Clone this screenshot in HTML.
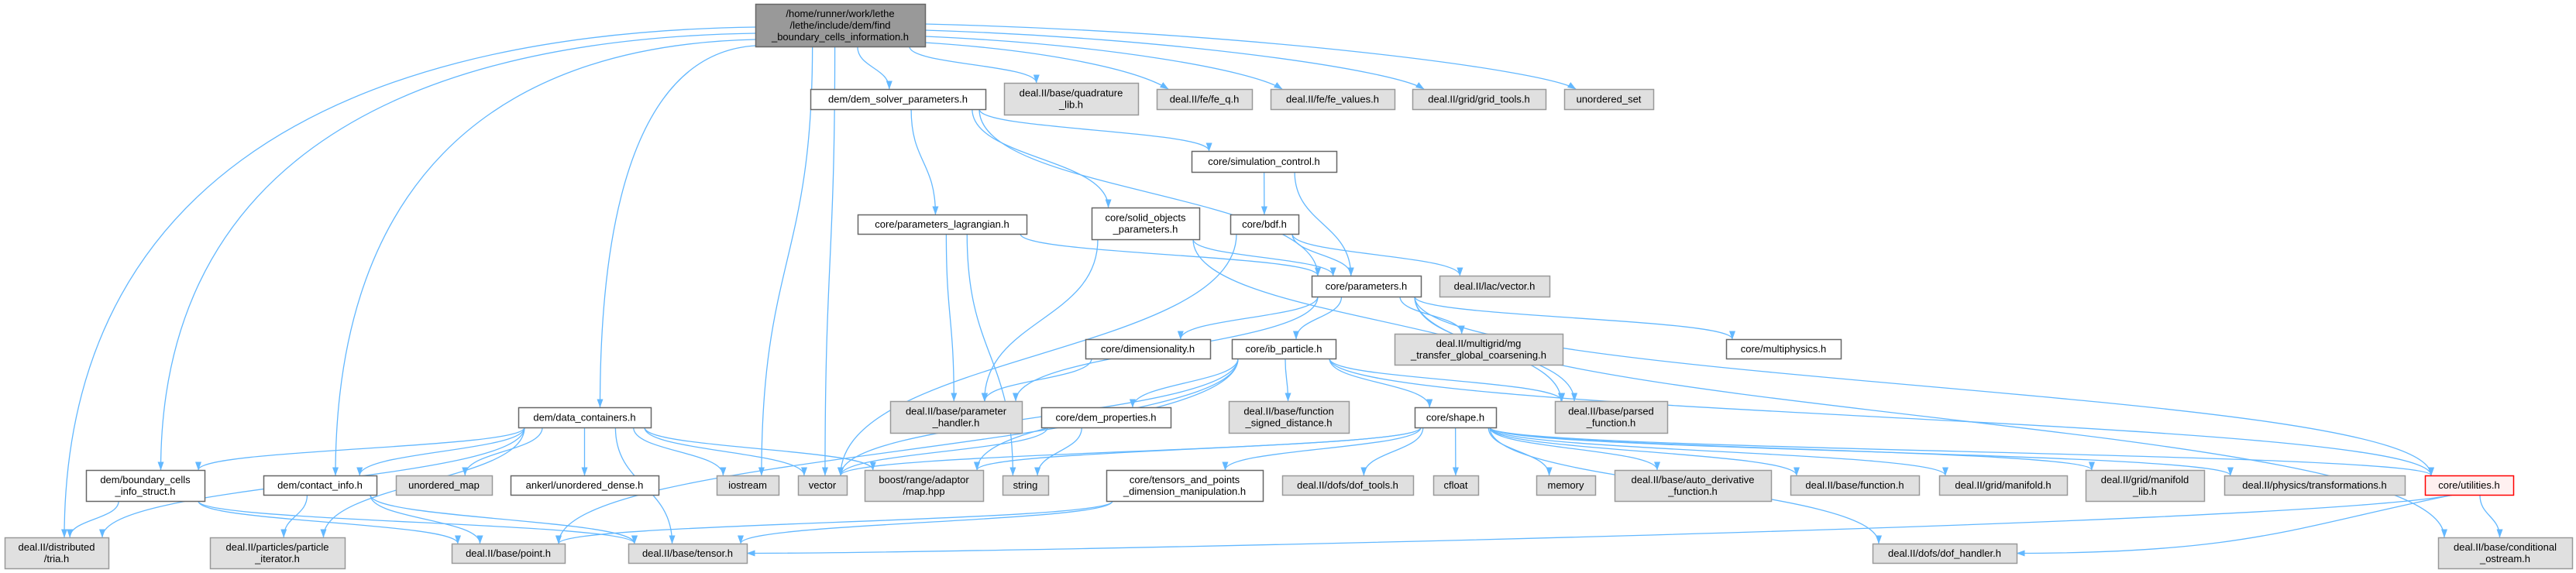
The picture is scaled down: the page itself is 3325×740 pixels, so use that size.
<!DOCTYPE html>
<html><head><meta charset="utf-8">
<style>
html,body{margin:0;padding:0;background:#fff;}
svg{display:block;}
text{font-family:"Liberation Sans",sans-serif;font-size:13px;fill:#000;}
</style></head>
<body>
<svg id="g" xmlns="http://www.w3.org/2000/svg" width="3325" height="740" viewBox="0 0 3325 740">
<defs>
<marker id="ah" markerUnits="userSpaceOnUse" markerWidth="11" markerHeight="8" refX="10.5" refY="4" orient="auto">
<path d="M0,0 L11,4 L0,8 z" fill="#63b8ff"/>
</marker>
</defs>
<g id="edges" fill="none" stroke="#63b8ff" stroke-width="1.3"></g>
<g id="nodes"></g>
</svg>
<script>
const N={
top:[975,5,1194,60,['/home/runner/work/lethe','/lethe/include/dem/find','_boundary_cells_information.h'],'top'],
dsp:[1046,115,1272,141,['dem/dem_solver_parameters.h'],'w'],
quad:[1296,107,1469,148,['deal.II/base/quadrature','_lib.h'],'g'],
feq:[1493,115,1616,141,['deal.II/fe/fe_q.h'],'g'],
fev:[1640,115,1800,141,['deal.II/fe/fe_values.h'],'g'],
gt:[1823,115,1995,141,['deal.II/grid/grid_tools.h'],'g'],
us:[2019,115,2134,141,['unordered_set'],'g'],
sim:[1538,195,1725,222,['core/simulation_control.h'],'w'],
pl:[1107,277,1325,302,['core/parameters_lagrangian.h'],'w'],
sop:[1409,268,1548,309,['core/solid_objects','_parameters.h'],'w'],
bdf:[1588,277,1676,302,['core/bdf.h'],'w'],
par:[1693,356,1834,383,['core/parameters.h'],'w'],
lv:[1858,356,2000,383,['deal.II/lac/vector.h'],'g'],
dim:[1401,438,1562,463,['core/dimensionality.h'],'w'],
ib:[1590,438,1724,463,['core/ib_particle.h'],'w'],
mg:[1800,431,2017,471,['deal.II/multigrid/mg','_transfer_global_coarsening.h'],'g'],
mp:[2228,438,2376,463,['core/multiphysics.h'],'w'],
dc:[669,526,840,552,['dem/data_containers.h'],'w'],
ph:[1149,518,1319,559,['deal.II/base/parameter','_handler.h'],'g'],
dp:[1344,526,1511,552,['core/dem_properties.h'],'w'],
fsd:[1586,518,1741,559,['deal.II/base/function','_signed_distance.h'],'g'],
sh:[1826,526,1931,552,['core/shape.h'],'w'],
pf:[2007,518,2152,559,['deal.II/base/parsed','_function.h'],'g'],
bc:[111,607,264,647,['dem/boundary_cells','_info_struct.h'],'w'],
ci:[340,614,486,639,['dem/contact_info.h'],'w'],
um:[511,614,635,639,['unordered_map'],'g'],
ak:[659,614,850,639,['ankerl/unordered_dense.h'],'w'],
io:[925,614,1005,639,['iostream'],'g'],
vec:[1030,614,1093,639,['vector'],'g'],
bo:[1116,607,1269,647,['boost/range/adaptor','/map.hpp'],'g'],
str:[1294,614,1353,639,['string'],'g'],
tp:[1428,607,1630,647,['core/tensors_and_points','_dimension_manipulation.h'],'w'],
dt:[1655,614,1824,639,['deal.II/dofs/dof_tools.h'],'g'],
cf:[1850,614,1908,639,['cfloat'],'g'],
mem:[1983,614,2059,639,['memory'],'g'],
ad:[2084,607,2286,647,['deal.II/base/auto_derivative','_function.h'],'g'],
fn:[2311,614,2477,639,['deal.II/base/function.h'],'g'],
mf:[2503,614,2668,639,['deal.II/grid/manifold.h'],'g'],
ml:[2692,607,2845,647,['deal.II/grid/manifold','_lib.h'],'g'],
tr:[2871,614,3104,639,['deal.II/physics/transformations.h'],'g'],
ut:[3130,614,3244,639,['core/utilities.h'],'r'],
tria:[6,694,140,734,['deal.II/distributed','/tria.h'],'g'],
pi:[271,694,445,734,['deal.II/particles/particle','_iterator.h'],'g'],
pt:[583,702,729,727,['deal.II/base/point.h'],'g'],
ten:[811,702,964,727,['deal.II/base/tensor.h'],'g'],
dh:[2417,702,2603,727,['deal.II/dofs/dof_handler.h'],'g'],
co:[3147,694,3320,734,['deal.II/base/conditional','_ostream.h'],'g']
};
const E=[
['top','tria','L',30],['top','bc','L',38],['top','ci','L',46],['top','dc','L',54],
['top','io'],['top','vec'],['top','dsp'],['top','quad'],
['top','feq','Rs',50],['top','fev','Rs',42],['top','gt','Rs',34],['top','us','Rs',26],
['dsp','pl'],['dsp','sop'],['dsp','sim'],['dsp','par'],
['sim','bdf'],['sim','par'],
['bdf','par'],['bdf','lv'],['bdf','vec'],
['pl','par'],['pl','ph'],['pl','str'],
['sop','ph'],['sop','par'],['sop','pf'],
['par','ph'],['par','dim'],['par','ib'],['par','mg'],['par','pf'],['par','mp'],['par','ut'],['par','co'],
['dim','ph'],
['ib','dp'],['ib','fsd'],['ib','sh'],['ib','pf'],['ib','vec'],['ib','pt'],['ib','ut'],['ib','bo'],
['dp','vec'],['dp','str'],
['sh','vec'],['sh','bo'],['sh','tp'],['sh','dt'],['sh','cf'],['sh','mem'],['sh','ad'],['sh','fn'],['sh','mf'],['sh','ml'],['sh','tr'],['sh','ut'],['sh','dh'],
['ut','ten','R'],['ut','dh','R'],['ut','co'],
['dc','tria'],['dc','bc'],['dc','ci'],['dc','um'],['dc','ak'],['dc','io'],['dc','vec'],['dc','bo'],['dc','ten'],['dc','pi'],
['bc','tria'],['bc','pt'],['bc','ten'],
['ci','pi'],['ci','pt'],['ci','ten'],
['tp','pt'],['tp','ten']
];
const NS='http://www.w3.org/2000/svg';
const eg=document.getElementById('edges'),ng=document.getElementById('nodes');
function cl(v,a,b){return Math.max(a,Math.min(b,v));}
function box(k){const n=N[k];return{x1:n[0],y1:n[1],x2:n[2],y2:n[3],cx:(n[0]+n[2])/2,cy:(n[1]+n[3])/2};}
E.forEach(e=>{
 const S=box(e[0]),T=box(e[1]);let d;
 if(e[2]==='L'){
  const sx=S.x1,sy=S.y1+e[3],ex=T.cx+(e[1]==='tria'?10:20),ey=T.y1;
  d=`M${sx},${sy} C${ex+(sx-ex)*0.35},${sy+8} ${ex},${sy+(ey-sy)*0.35} ${ex},${ey}`;
 }else if(e[2]==='Rs'){
  const sx=S.x2,sy=S.y1+e[3],ex=T.x1+15,ey=T.y1;
  d=`M${sx},${sy} C${sx+(ex-sx)*0.5},${sy+10} ${ex-40},${ey-25} ${ex},${ey}`;
 }else if(e[2]==='R'){
  const sx=S.cx-20,sy=S.y2,ex=T.x2,ey=T.cy;
  d=`M${sx},${sy} C${sx-200},${sy+40} ${ex+300},${ey} ${ex},${ey}`;
 }else{
  const sx=cl(S.cx+(T.cx-S.cx)*0.3,S.x1+8,S.x2-8),sy=S.y2;
  const ex=cl(T.cx+(S.cx-T.cx)*0.15,T.x1+8,T.x2-8),ey=T.y1;
  const m=(ey-sy)*0.5;
  d=`M${sx},${sy} C${sx},${sy+m} ${ex},${ey-m} ${ex},${ey}`;
 }
 const p=document.createElementNS(NS,'path');p.setAttribute('d',d);p.setAttribute('marker-end','url(#ah)');eg.appendChild(p);
});
for(const k in N){
 const n=N[k];const st=n[5];
 const r=document.createElementNS(NS,'rect');
 r.setAttribute('x',n[0]+0.5);r.setAttribute('y',n[1]+0.5);r.setAttribute('width',n[2]-n[0]);r.setAttribute('height',n[3]-n[1]);
 let fill='#fff',stroke='#666';
 if(st==='g'){fill='#e0e0e0';stroke='#999';}
 if(st==='top'){fill='#999';stroke='#666';}
 if(st==='r'){fill='#fff0f0';stroke='#ff0000';}
 r.setAttribute('fill',fill);r.setAttribute('stroke',stroke);r.setAttribute('stroke-width','1.5');
 ng.appendChild(r);
 const lines=n[4];const cx=(n[0]+n[2])/2,cy=(n[1]+n[3])/2;
 lines.forEach((t,i)=>{
  const tx=document.createElementNS(NS,'text');
  tx.setAttribute('x',cx);tx.setAttribute('y',cy+(i-(lines.length-1)/2)*15+4.5);
  tx.setAttribute('text-anchor','middle');tx.textContent=t;ng.appendChild(tx);
 });
}
</script>
</body></html>
